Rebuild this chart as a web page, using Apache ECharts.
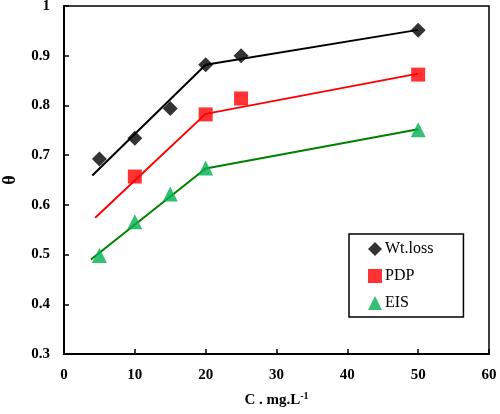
<!DOCTYPE html>
<html>
<head>
<meta charset="utf-8">
<script src="https://cdn.jsdelivr.net/npm/echarts@6/dist/echarts.min.js"></script>
<style>html,body{margin:0;padding:0;background:#fff}#c{width:500px;height:414px}</style>
</head>
<body>
<div id="c"></div>
<script>
var xTicks = [0, 10, 20, 30, 40, 50, 60];
var yTicks = [0.3, 0.4, 0.5, 0.6, 0.7, 0.8, 0.9, 1];

var wtX = [5, 10, 15, 20, 25, 50];
var wtY = [0.692, 0.734, 0.794, 0.882, 0.900, 0.951];
var pdpX = [10, 20, 25, 50];
var pdpY = [0.657, 0.782, 0.814, 0.862];
var eisX = [5, 10, 15, 20, 50];
var eisY = [0.498, 0.566, 0.622, 0.674, 0.751];

var wtFitX = [4, 20, 50];
var wtFitY = [0.659, 0.882, 0.952];
var pdpFitX = [4.4, 20, 50];
var pdpFitY = [0.574, 0.783, 0.864];
var eisFitX = [3.8, 20, 50];
var eisFitY = [0.490, 0.673, 0.752];

function zip(a, b) { return a.map(function (v, i) { return [v, b[i]]; }); }

var chart = echarts.init(document.getElementById('c'));
var labelFont = {fontFamily: 'Liberation Serif', fontWeight: 'bold', fontSize: 15, color: '#000'};
chart.setOption({
  animation: false,
  grid: {left: 64, right: 11, top: 6, bottom: 60, show: true, borderColor: '#000', borderWidth: 1.5, backgroundColor: 'transparent', outerBoundsMode: 'none', containLabel: false},
  xAxis: {
    type: 'value', min: xTicks[0], max: xTicks[xTicks.length - 1], interval: 10,
    axisLine: {lineStyle: {color: '#000', width: 2}},
    axisTick: {inside: true, length: 5, lineStyle: {color: '#000', width: 1.5}},
    splitLine: {show: false},
    axisLabel: Object.assign({margin: 14}, labelFont),
    name: '{a|C . mg.L}{s|-1}',
    nameLocation: 'middle', nameGap: 37,
    nameTextStyle: {
      rich: {
        a: {fontFamily: 'Liberation Serif', fontWeight: 'bold', fontSize: 15, color: '#000'},
        s: {fontFamily: 'Liberation Serif', fontWeight: 'bold', fontSize: 10, color: '#000', verticalAlign: 'top', padding: [0, 0, 8, 0]}
      }
    }
  },
  yAxis: {
    type: 'value', min: yTicks[0], max: yTicks[yTicks.length - 1], interval: 0.1,
    axisLine: {lineStyle: {color: '#000', width: 2}},
    axisTick: {inside: true, length: 5, lineStyle: {color: '#000', width: 1.5}},
    splitLine: {show: false},
    axisLabel: Object.assign({margin: 14, formatter: function (v) { return Math.abs(v - 1) < 1e-9 ? '1' : v.toFixed(1); }}, labelFont),
    name: 'θ', nameLocation: 'middle', nameRotate: 90, nameGap: 45,
    nameTextStyle: {fontFamily: 'Liberation Serif', fontWeight: 'bold', fontSize: 18, color: '#000'}
  },
  legend: {
    orient: 'vertical', left: 349, top: 234,
    data: ['Wt.loss', 'PDP', 'EIS'],
    borderColor: '#000', borderWidth: 1.5, padding: [7, 30, 6, 19],
    itemWidth: 14, itemHeight: 14, itemGap: 11,
    backgroundColor: '#fff',
    textStyle: {fontFamily: 'Liberation Serif', fontSize: 16, color: '#000', padding: [0, 0, 0, -2]}
  },
  series: [
    {name: 'wtfit', type: 'line', data: zip(wtFitX, wtFitY), symbol: 'none', lineStyle: {color: '#000', width: 2}, z: 2},
    {name: 'pdpfit', type: 'line', data: zip(pdpFitX, pdpFitY), symbol: 'none', lineStyle: {color: '#ff0000', width: 2}, z: 2},
    {name: 'eisfit', type: 'line', data: zip(eisFitX, eisFitY), symbol: 'none', lineStyle: {color: '#008000', width: 2}, z: 2},
    {name: 'Wt.loss', type: 'scatter', data: zip(wtX, wtY), symbol: 'diamond', symbolSize: 15, itemStyle: {color: '#000'}, z: 3},
    {name: 'PDP', type: 'scatter', data: zip(pdpX, pdpY), symbol: 'rect', symbolSize: 14, itemStyle: {color: '#ff0000'}, z: 3},
    {name: 'EIS', type: 'scatter', data: zip(eisX, eisY), symbol: 'triangle', symbolSize: 15, itemStyle: {color: '#00b050'}, z: 3}
  ]
});
</script>
</body>
</html>
